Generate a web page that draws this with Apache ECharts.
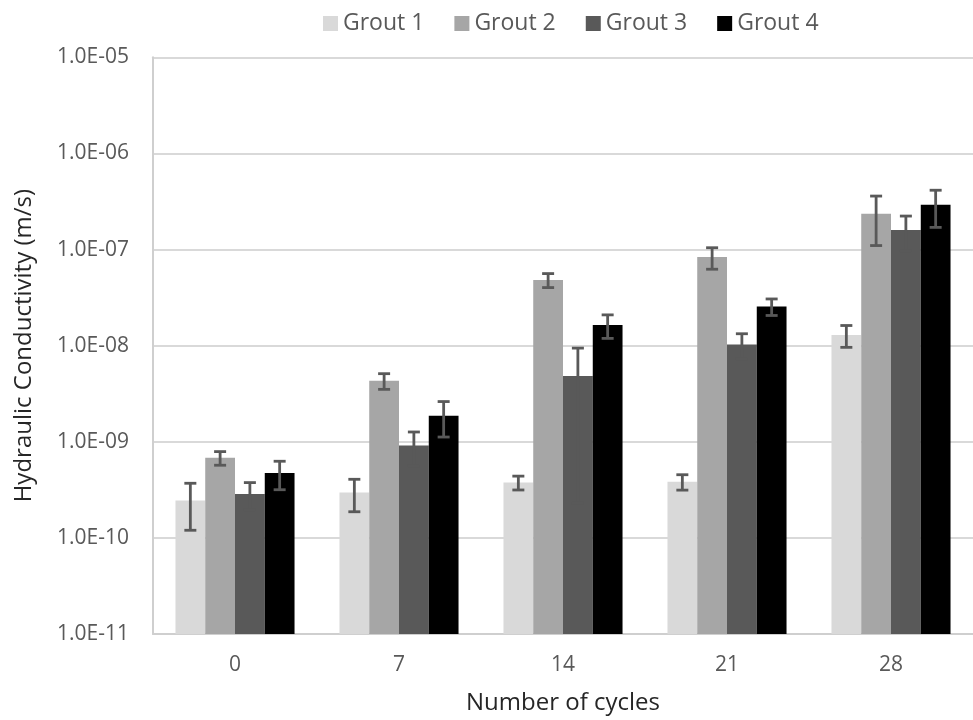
<!DOCTYPE html>
<html>
<head>
<meta charset="utf-8">
<script src="https://cdn.jsdelivr.net/npm/echarts@6/dist/echarts.min.js"></script>
<style>
  html, body { margin: 0; padding: 0; background: #ffffff; }
  #chart { width: 973px; height: 720px; }
</style>
</head>
<body>
<div id="chart"></div>
<script>
// Freeze–thaw test results: hydraulic conductivity (m/s) by number of cycles
const cycles = ['0', '7', '14', '21', '28'];
const seriesNames = ['Grout 1', 'Grout 2', 'Grout 3', 'Grout 4'];

const grout1 = [2.45e-10, 2.97e-10, 3.77e-10, 3.84e-10, 1.29e-8];
const grout2 = [6.8e-10, 4.31e-9, 4.82e-8, 8.34e-8, 2.35e-7];
const grout3 = [2.86e-10, 9.14e-10, 4.83e-9, 1.03e-8, 1.6e-7];
const grout4 = [4.72e-10, 1.87e-9, 1.64e-8, 2.56e-8, 2.92e-7];

// symmetric (± linear) error bar half-widths
const grout1Err = [1.25e-10, 1.1e-10, 0.62e-10, 0.7e-10, 0.33e-8];
const grout2Err = [1.1e-10, 0.8e-9, 0.8e-8, 2.1e-8, 1.25e-7];
const grout3Err = [0.9e-10, 0.35e-9, 4.6e-9, 0.3e-8, 0.63e-7];
const grout4Err = [1.55e-10, 0.75e-9, 0.45e-8, 0.5e-8, 1.22e-7];

const yMin = 1e-11;
const yMax = 1e-5;

const values = [grout1, grout2, grout3, grout4];
const errors = [grout1Err, grout2Err, grout3Err, grout4Err];
const colors = ['#d9d9d9', '#a6a6a6', '#595959', '#000000'];
const errColor = '#595959';
const catGap = 0.274; // share of each category left empty between groups
const font = '"Open Sans", "Noto Sans", sans-serif';

function expLabel(v) {
  const e = Math.round(Math.log10(v));
  const sign = e < 0 ? '-' : '+';
  return '1.0E' + sign + String(Math.abs(e)).padStart(2, '0');
}

function errorSeries(k) {
  const data = values[k].map((v, i) => [i, v + errors[k][i], Math.max(v - errors[k][i], yMin)]);
  return {
    type: 'custom',
    name: seriesNames[k] + ' error',
    z: 5,
    data: data,
    encode: { x: 0, y: [1, 2] },
    renderItem: function (params, api) {
      const idx = api.value(0);
      const band = api.size([1, 0])[0];
      const bw = band * (1 - catGap) / 4;
      const offset = (k - 1.5) * bw;
      const hi = api.coord([idx, api.value(1)]);
      const lo = api.coord([idx, api.value(2)]);
      const x = hi[0] + offset;
      const cap = 6;
      const style = { stroke: errColor, lineWidth: 2.8, fill: null };
      return {
        type: 'group',
        children: [
          { type: 'line', shape: { x1: x, y1: hi[1], x2: x, y2: lo[1] }, style: style },
          { type: 'line', shape: { x1: x - cap, y1: hi[1], x2: x + cap, y2: hi[1] }, style: style },
          { type: 'line', shape: { x1: x - cap, y1: lo[1], x2: x + cap, y2: lo[1] }, style: style }
        ]
      };
    }
  };
}

const barSeries = seriesNames.map((name, k) => ({
  type: 'bar',
  name: name,
  data: values[k],
  itemStyle: { color: colors[k] },
  barGap: '0%',
  barCategoryGap: (catGap * 100) + '%',
  z: 2
}));

const chart = echarts.init(document.getElementById('chart'), null, { renderer: 'canvas' });
chart.setOption({
  animation: false,
  backgroundColor: '#ffffff',
  legend: {
    data: seriesNames,
    top: 7,
    left: 318,
    icon: 'rect',
    itemWidth: 15,
    itemHeight: 15,
    itemGap: 30,
    textStyle: { fontFamily: font, fontSize: 23, color: '#595959' }
  },
  grid: { left: 153, top: 57.3, width: 826.5, height: 578.4, containLabel: false },
  xAxis: {
    type: 'category',
    data: cycles,
    name: 'Number of cycles',
    nameLocation: 'middle',
    nameGap: 57,
    nameTextStyle: { fontFamily: font, fontSize: 24, color: '#262626' },
    axisLine: { show: true, lineStyle: { color: '#cfcfcf', width: 2 } },
    axisTick: { show: false },
    axisLabel: { fontFamily: font, fontSize: 21, color: '#595959', margin: 21 },
    splitLine: { show: false }
  },
  yAxis: {
    type: 'log',
    logBase: 10,
    min: yMin,
    max: yMax,
    interval: 1,
    startValue: yMin,
    name: 'Hydraulic Conductivity (m/s)',
    nameLocation: 'middle',
    nameRotate: 90,
    nameGap: 117,
    nameTextStyle: { fontFamily: font, fontSize: 24, color: '#262626' },
    axisLine: { show: true, lineStyle: { color: '#cfcfcf', width: 2 } },
    axisTick: { show: false },
    axisLabel: { fontFamily: font, fontSize: 21, color: '#595959', margin: 24, formatter: expLabel },
    splitLine: { show: true, lineStyle: { color: '#d9d9d9', width: 2 } },
    minorTick: { show: false },
    minorSplitLine: { show: false }
  },
  series: barSeries.concat(seriesNames.map((n, k) => errorSeries(k)))
});
</script>
</body>
</html>
